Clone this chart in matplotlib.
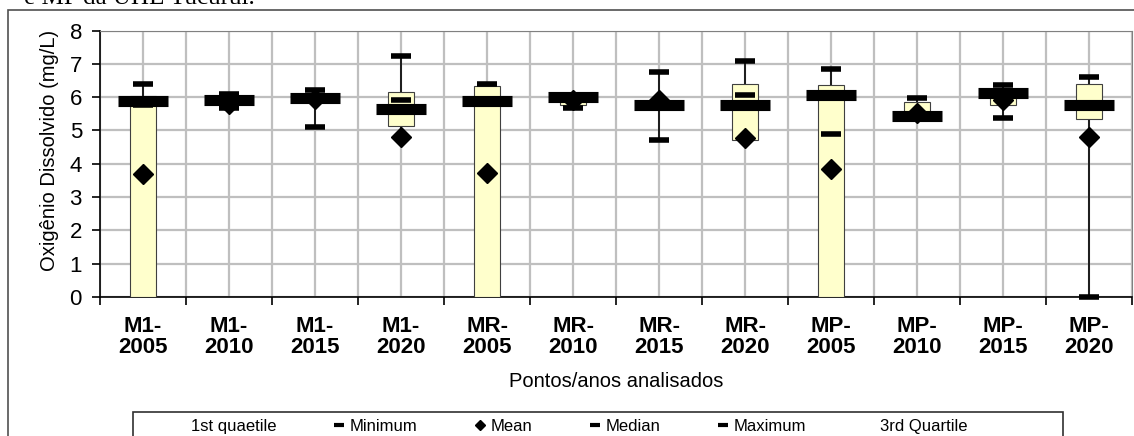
import numpy as np
import matplotlib.pyplot as plt
from matplotlib.lines import Line2D
from matplotlib.patches import Rectangle

plt.rcParams['font.family'] = ['Liberation Sans', 'DejaVu Sans']

# dados (OD, mg/L)
pontos = ["M1-\n2005", "M1-\n2010", "M1-\n2015", "M1-\n2020",
          "MR-\n2005", "MR-\n2010", "MR-\n2015", "MR-\n2020",
          "MP-\n2005", "MP-\n2010", "MP-\n2015", "MP-\n2020"]
q1 = [0.0, 5.80, 5.90, 5.12, 0.0, 5.77, 5.70, 4.72, 0.0, 5.35, 5.77, 5.35]
q3 = [6.02, 6.00, 6.05, 6.15, 6.32, 6.00, 5.85, 6.40, 6.37, 5.84, 6.10, 6.40]
minimo = [5.76, 5.66, 5.11, 5.90, 5.85, 5.68, 4.71, 6.07, 4.88, 5.45, 5.36, 0.0]
maximo = [6.38, 6.08, 6.22, 7.22, 6.39, 6.05, 6.76, 7.07, 6.84, 5.97, 6.37, 6.60]
mediana = [5.88, 5.90, 5.98, 5.64, 5.89, 6.01, 5.75, 5.75, 6.06, 5.42, 6.11, 5.75]
media = [3.69, 5.80, 5.93, 4.80, 3.72, 5.90, 5.92, 4.77, 3.85, 5.52, 5.90, 4.80]

x = np.arange(len(pontos))
serie = np.array([q1, q3, minimo, maximo, mediana, media])
baixo = serie.min(axis=0)
alto = serie.max(axis=0)

fig = plt.figure(figsize=(11.34, 4.36), dpi=100)
ax = fig.add_axes([100/1134, 1 - 297/436, 1032/1134, 266.5/436])

# linhas max-min e caixas (quartis)
ax.vlines(x, baixo, alto, color='black', lw=1.2, zorder=2)
ax.bar(x, np.array(q3) - np.array(q1), bottom=q1, width=0.31,
       color='#FFFFCC', edgecolor='#404040', lw=0.8, zorder=3)

ax.plot(x, media, ls='none', marker='D', ms=10.5, color='black', zorder=4, clip_on=False)
ax.plot(x, mediana, ls='none', marker='_', ms=36, mew=8, color='black', zorder=5, clip_on=False)
ax.plot(x, minimo, ls='none', marker='_', ms=14.5, mew=4, color='black', zorder=6, clip_on=False)
ax.plot(x, maximo, ls='none', marker='_', ms=14.5, mew=4, color='black', zorder=6, clip_on=False)

ax.set_xlim(-0.5, len(pontos) - 0.5)
ax.set_ylim(0, 8)
ax.set_yticks(range(0, 9))
ax.set_xticks(x)
ax.set_xticklabels(pontos, fontsize=16, fontweight='bold', linespacing=1.0)
ax.set_xticks(np.arange(-0.5, len(pontos)), minor=True)
ax.tick_params(axis='x', which='major', length=0, pad=14)
ax.tick_params(axis='x', which='minor', length=6, direction='out', width=1.2)
ax.tick_params(axis='y', length=6, direction='out', width=1.2, labelsize=16, pad=7)

ax.grid(True, axis='x', which='both', color='#BFBFBF', lw=1.6)
ax.grid(True, axis='y', which='major', color='#BFBFBF', lw=1.6)
ax.set_axisbelow(True)
for s in ['top', 'right']:
    ax.spines[s].set_color('#808080')
for s in ['left', 'bottom']:
    ax.spines[s].set_color('black')
    ax.spines[s].set_linewidth(1.2)

ax.set_ylabel('Oxigênio Dissolvido (mg/L)', fontsize=14.5)
ax.yaxis.set_label_coords(-0.04, 0.55)
ax.set_xlabel('Pontos/anos analisados', fontsize=14.5)
ax.xaxis.set_label_coords(0.5, (297 - 372) / 266.5, transform=ax.transAxes)

# legenda
handles = [
    Line2D([], [], ls='none'),
    Line2D([], [], ls='none', marker='_', ms=7, mew=3, color='black'),
    Line2D([], [], ls='none', marker='D', ms=5, color='black'),
    Line2D([], [], ls='none', marker='_', ms=7, mew=3, color='black'),
    Line2D([], [], ls='none', marker='_', ms=7, mew=3, color='black'),
    Line2D([], [], ls='none'),
]
labels = ['1st quaetile', 'Minimum', 'Mean', 'Median', 'Maximum', '3rd Quartile']
leg = fig.legend(handles, labels, ncol=6, loc='upper left',
                 bbox_to_anchor=(174/1134, 1 - 419/436), fontsize=12,
                 frameon=False, handlelength=0.7, handletextpad=0.3,
                 columnspacing=3.4, borderaxespad=0, borderpad=0)

# moldura da legenda (cortada embaixo) e do grafico
fig.add_artist(Rectangle((133/1134, -0.1), 930/1134, 0.1 + 1 - 412/436,
                         transform=fig.transFigure, fill=False,
                         edgecolor='#303030', lw=1.2))
fig.add_artist(Rectangle((8/1134, -0.1), 1.2, 1.1 - 10.5/436, transform=fig.transFigure,
                         fill=False, edgecolor='#505050', lw=1.2))
fig.text(255/1134, 1 - 4/436, 'e MP da UHE Tucuruí.', ha='right', va='baseline',
         fontsize=18, family=['Liberation Serif', 'DejaVu Serif'])

fig.savefig('out.png', dpi=100)
